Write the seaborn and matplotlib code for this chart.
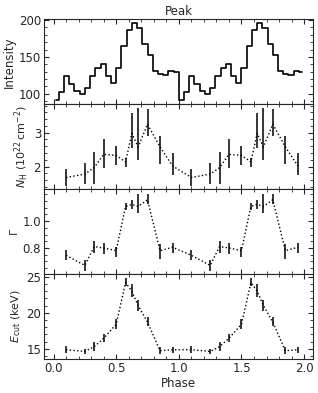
import numpy as np
import pandas as pd
import matplotlib
matplotlib.use('Agg')
import matplotlib.pyplot as plt
import seaborn as sns
from matplotlib.ticker import AutoMinorLocator, MultipleLocator, FixedLocator

# pulse profile, 24 bins per cycle (plotted for two cycles)
lc_counts = [91.4, 102.7, 124.7, 113.7, 103.7, 100.0, 108.2, 123.8, 135.6, 140.7, 124.7, 115.0,
             135.2, 164.4, 186.3, 195.9, 188.6, 167.1, 152.6, 131.1, 126.6, 125.6, 131.1, 129.3]

# phase-resolved fit results (one cycle, repeated)
phase = [0.1, 0.25, 0.325, 0.4, 0.5, 0.575, 0.625, 0.675, 0.75, 0.85, 0.95]
nh = [1.68, 1.78, 1.97, 2.36, 2.33, 2.14, 2.98, 2.58, 3.25, 2.58, 2.02]
nh_hi = [1.94, 2.10, 2.43, 2.80, 2.61, 2.26, 3.57, 3.72, 3.69, 2.90, 2.41]
nh_lo = [1.44, 1.48, 1.50, 1.97, 2.04, 2.00, 2.54, 2.20, 2.90, 2.09, 1.76]
gamma = [0.745, 0.67, 0.81, 0.80, 0.78, 1.11, 1.125, 1.11, 1.16, 0.78, 0.805]
gamma_hi = [0.788, 0.713, 0.855, 0.837, 0.81, 1.137, 1.157, 1.20, 1.20, 0.83, 0.84]
gamma_lo = [0.707, 0.625, 0.762, 0.755, 0.73, 1.08, 1.088, 1.06, 1.125, 0.72, 0.76]
ecut = [14.86, 14.63, 15.3, 16.45, 18.4, 24.2, 23.0, 21.0, 18.7, 14.73, 14.86]
ecut_hi = [15.4, 15.0, 15.9, 17.0, 19.2, 24.8, 24.0, 21.8, 19.4, 15.2, 15.3]
ecut_lo = [14.4, 14.3, 14.7, 15.9, 17.8, 23.7, 22.2, 20.3, 18.1, 14.3, 14.4]

# labelled y ticks per panel
lc_ticks = [100, 150, 200]
nh_ticks = [2, 3]
gamma_ticks = [0.8, 1.0]
ecut_ticks = [15, 20, 25]

sns.set_style('ticks')
plt.rcParams['font.family'] = ['DejaVu Sans']
plt.rcParams['font.size'] = 8.5
plt.rcParams['mathtext.fontset'] = 'dejavusans'

nb = len(lc_counts)
lc = pd.DataFrame({'phase': (np.arange(2 * nb) + 0.5) / nb, 'counts': lc_counts * 2})

def two_cycles(vals):
    return np.array(vals * 2)

ph2 = np.array(phase + [p + 1 for p in phase])

fig, axes = plt.subplots(4, 1, sharex=True, figsize=(3.18, 3.93), dpi=100)
fig.subplots_adjust(left=0.138, right=0.984, top=0.951, bottom=0.087, hspace=0)

ax = axes[0]
sns.lineplot(data=lc, x='phase', y='counts', ax=ax, color='black', lw=1.2,
             drawstyle='steps-mid', sort=False)
ax.set_ylim(86, 201)
ax.set_ylabel('Intensity', fontsize=8.5, labelpad=2)
ax.set_title('Peak', fontsize=8.5, pad=3)
ax.yaxis.set_major_locator(FixedLocator(lc_ticks))

params = [
    (nh, nh_hi, nh_lo, r'$N_{\rm H}$ ($10^{22}\,{\rm cm^{-2}}$)', (1.34, 3.84), nh_ticks),
    (gamma, gamma_hi, gamma_lo, r'$\Gamma$', (0.606, 1.24), gamma_ticks),
    (ecut, ecut_hi, ecut_lo, r'$E_{\rm cut}$ (keV)', (13.6, 25.4), ecut_ticks),
]
for ax, (v, hi, lo, lab, yl, ticks) in zip(axes[1:], params):
    v2, hi2, lo2 = two_cycles(v), two_cycles(hi), two_cycles(lo)
    df = pd.DataFrame({'phase': ph2, 'val': v2})
    sns.lineplot(data=df, x='phase', y='val', ax=ax, color='black', lw=1.0,
                 linestyle=':', sort=False)
    ax.errorbar(ph2, v2, yerr=[v2 - lo2, hi2 - v2], fmt='none', ecolor='black',
                elinewidth=1.1, capsize=0)
    ax.set_ylim(*yl)
    ax.set_ylabel(lab, fontsize=8, labelpad=2)
    ax.yaxis.set_major_locator(FixedLocator(ticks))

for ax in axes:
    ax.set_xlim(-0.077, 2.07)
    ax.xaxis.set_major_locator(MultipleLocator(0.5))
    ax.xaxis.set_minor_locator(MultipleLocator(0.1))
    ax.yaxis.set_minor_locator(AutoMinorLocator())
    ax.tick_params(which='both', direction='in', top=True, right=True, labelsize=8.5, pad=2)
    ax.tick_params(which='major', length=3.5, width=0.8)
    ax.tick_params(which='minor', length=2, width=0.6)
    ax.set_xlabel('')
    for s in ax.spines.values():
        s.set_linewidth(0.8)

axes[-1].set_xlabel('Phase', fontsize=8.5, labelpad=2)

fig.savefig('out.png', dpi=100)
